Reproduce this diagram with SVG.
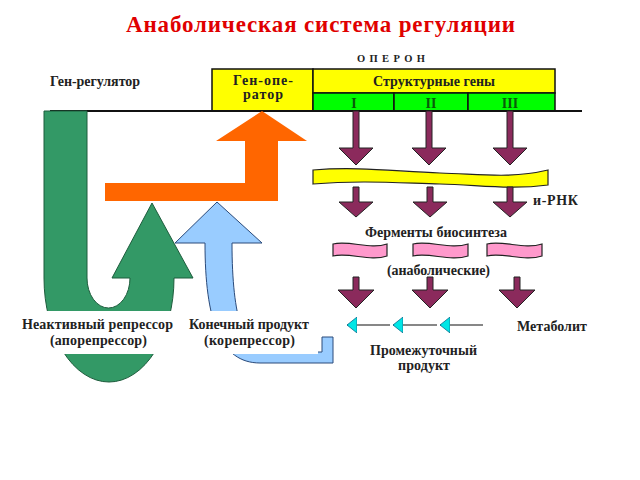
<svg xmlns="http://www.w3.org/2000/svg" width="640" height="480" viewBox="0 0 640 480" font-family="'Liberation Serif', 'Times New Roman', 'DejaVu Serif', serif">
<style>
text{font-weight:bold;fill:#222;font-size:14px}
.c{text-anchor:middle}
.title{fill:#e00000;font-size:23px}
.sm{font-size:10.5px}
.box{stroke:#111;stroke-width:1.5}
.pa{fill:#8b2a5c;stroke:#222;stroke-width:1}
.pk{fill:#ff99cc;stroke:#222;stroke-width:1.2}
.cy{stroke:#111;stroke-width:1.2;fill:none}
</style>
<defs>
<marker id="tri" viewBox="0 0 10 16" refX="10" refY="8" markerWidth="10" markerHeight="16" markerUnits="userSpaceOnUse" orient="auto">
<path d="M0,0 L10,8 L0,16 Z" fill="#00e6e6" stroke="#0a6b8a" stroke-width="0.8"/>
</marker>
</defs>
<rect width="640" height="480" fill="#fff"/>
<text class="title" x="126" y="32" textLength="389" lengthAdjust="spacing">Анаболическая система регуляции</text>

<g id="operon-label"><text class="sm" x="357" y="62" textLength="68" lengthAdjust="spacing">О П Е Р О Н</text></g>
<g id="gene-regulator"><text x="50" y="86" textLength="90" lengthAdjust="spacing">Ген-регулятор</text></g>

<g id="operator">
<rect class="box" x="212" y="69" width="101" height="42" fill="#ffff00"/>
<text x="233" y="85" textLength="60" lengthAdjust="spacing">Ген-опе-</text>
<text x="243" y="99" textLength="40" lengthAdjust="spacing">ратор</text>
</g>
<g id="structural">
<rect class="box" x="313" y="69" width="242" height="24" fill="#ffff00"/>
<text x="373" y="86" textLength="122" lengthAdjust="spacing">Структурные гены</text>
<rect class="box" x="313" y="93" width="81" height="18" fill="#00ff00"/>
<rect class="box" x="394" y="93" width="74" height="18" fill="#00ff00"/>
<rect class="box" x="468" y="93" width="87" height="18" fill="#00ff00"/>
<text class="c" x="354" y="108" style="fill:#0a5a0a">I</text>
<text class="c" x="431" y="108" style="fill:#0a5a0a">II</text>
<text class="c" x="510" y="108" style="fill:#0a5a0a">III</text>
</g>
<g id="dna-line"><line x1="50" y1="111" x2="582" y2="111" stroke="#111" stroke-width="2"/></g>

<g id="repressor-arrow">
<path d="M44,111 L87,111 L87,278 A21.5,30 0 0 0 130,278 L112,278 L152,203 L193,278 L174,278 A65,104 0 0 1 44,278 Z" fill="#339966" stroke="#1d5c3c" stroke-width="1"/>
</g>
<g id="corepressor-arrow">
<path d="M175,243 L217,202 L262,243 L232,243 C232,320 245,352 265,352 L322,352 L322,337 L333,337 L333,363 L260,363 C220,363 205,320 205,243 Z" fill="#99ccff" stroke="#2a4a7a" stroke-width="1"/>
</g>
<g id="operator-arrow">
<path d="M105,183 L245,183 L245,141 L216,141 L262,111 L307,141 L278,141 L278,201 L105,201 Z" fill="#ff6600"/>
</g>

<rect x="15" y="311" width="303" height="43" fill="#fff"/>
<g id="repressor-label">
<text x="22" y="329" textLength="151" lengthAdjust="spacing">Неактивный репрессор</text>
<text x="50" y="345" textLength="97" lengthAdjust="spacing">(апорепрессор)</text>
</g>
<g id="product-label">
<text x="189" y="329" textLength="120" lengthAdjust="spacing">Конечный продукт</text>
<text x="204" y="345" textLength="91" lengthAdjust="spacing">(корепрессор)</text>
</g>

<g id="mrna">
<path d="M313,170 C360,166 400,172 440,173 C480,174 510,179 548,170 L548,185 C510,190 480,185 440,184 C400,183 360,180 313,184 Z" fill="#ffff00" stroke="#222" stroke-width="1.2"/>
<text x="533" y="205" textLength="45" lengthAdjust="spacing">и-РНК</text>
</g>

<g id="enzymes">
<text x="365" y="237" textLength="142" lengthAdjust="spacing">Ферменты биосинтеза</text>
<path class="pk" d="M333,244 C350,240 370,250 387,244 L387,256 C370,262 350,252 333,256 Z"/>
<path class="pk" d="M413,244 C430,240 450,250 468,244 L468,256 C450,262 430,252 413,256 Z"/>
<path class="pk" d="M487,244 C504,240 524,250 542,244 L542,256 C524,262 504,252 487,256 Z"/>
<text x="387" y="275" textLength="103" lengthAdjust="spacing">(анаболические)</text>
</g>

<g id="metabolite"><text x="517" y="331" textLength="70" lengthAdjust="spacing">Метаболит</text></g>
<g id="intermediate">
<text x="370" y="355" textLength="107" lengthAdjust="spacing">Промежуточный</text>
<text x="398" y="370" textLength="52" lengthAdjust="spacing">продукт</text>
</g>

<g id="connectors">
<path class="pa" d="M353,111 L359,111 L359,148 L373,148 L356,165 L339,148 L353,148 Z"/>
<path class="pa" d="M426,111 L432,111 L432,148 L446,148 L429,165 L412,148 L426,148 Z"/>
<path class="pa" d="M507,111 L513,111 L513,148 L527,148 L510,165 L493,148 L507,148 Z"/>
<path class="pa" d="M353,187 L359,187 L359,202 L373,202 L356,217 L339,202 L353,202 Z"/>
<path class="pa" d="M427,187 L433,187 L433,202 L447,202 L430,217 L413,202 L427,202 Z"/>
<path class="pa" d="M507,187 L513,187 L513,202 L527,202 L510,217 L493,202 L507,202 Z"/>
<path class="pa" d="M353,277 L359,277 L359,290 L374,290 L356,308 L338,290 L353,290 Z"/>
<path class="pa" d="M427,277 L433,277 L433,290 L448,290 L430,308 L412,290 L427,290 Z"/>
<path class="pa" d="M514,277 L520,277 L520,290 L535,290 L517,308 L499,290 L514,290 Z"/>
<line class="cy" x1="483" y1="325" x2="440" y2="325" marker-end="url(#tri)"/>
<line class="cy" x1="437" y1="325" x2="393" y2="325" marker-end="url(#tri)"/>
<line class="cy" x1="390" y1="325" x2="347" y2="325" marker-end="url(#tri)"/>
</g>
</svg>
